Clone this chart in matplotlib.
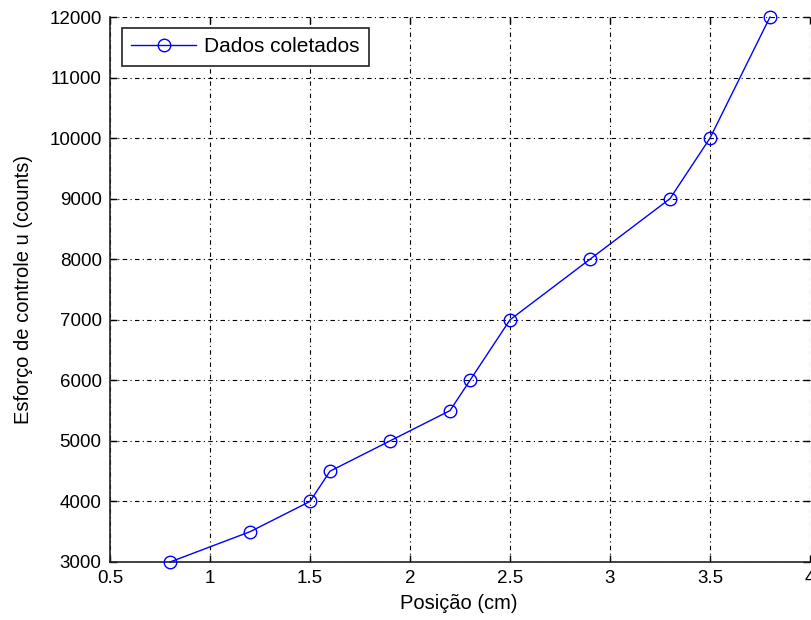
import matplotlib
matplotlib.use("Agg")
import matplotlib.pyplot as plt

posicao = [0.8, 1.2, 1.5, 1.6, 1.9, 2.2, 2.3, 2.5, 2.9, 3.3, 3.5, 3.8]
esforco = [3000, 3500, 4000, 4500, 5000, 5500, 6000, 7000, 8000, 9000, 10000, 12000]
xticks = [0.5, 1, 1.5, 2, 2.5, 3, 3.5, 4]
xticklabels = ["0.5", "1", "1.5", "2", "2.5", "3", "3.5", "4"]
yticks = list(range(3000, 12001, 1000))

plt.rcParams['font.family'] = ['Liberation Sans', 'DejaVu Sans']

fig = plt.figure(figsize=(8.12, 6.2), dpi=100)
ax = fig.add_axes([110/812, 58/620, 700/812, 545/620])

ax.plot(posicao, esforco, color='#0000ff', linewidth=1.0, marker='o', markersize=9,
        markerfacecolor='none', markeredgecolor='#0000ff', markeredgewidth=1.0,
        label='Dados coletados', clip_on=False, zorder=3)

ax.set_xlim(0.5, 4)
ax.set_ylim(3000, 12000)
ax.set_xticks(xticks)
ax.set_xticklabels(xticklabels)
ax.set_yticks(yticks)
ax.tick_params(direction='in', length=5, width=1.0, labelsize=13.5, top=True, right=True, pad=6)
ax.grid(True, color='black', linestyle=(0, (4, 3, 1, 3)), linewidth=0.8)
for s in ['top', 'right']:
    ax.spines[s].set_visible(False)
for s in ['left', 'bottom']:
    ax.spines[s].set_linewidth(1.2)
    ax.spines[s].set_color('#222222')

ax.set_xlabel('Posição (cm)', fontsize=14.5)
ax.set_ylabel('Esforço de controle u (counts)', fontsize=14.5)
ax.xaxis.set_label_coords((459 - 110) / 700, (562 - 594) / 545)
ax.yaxis.set_label_coords((33 - 110) / 700, 0.5)

leg = ax.legend(loc='upper left', bbox_to_anchor=(12/700, 1 - 11/545), fontsize=15,
                frameon=True, fancybox=False, edgecolor='#222222', framealpha=1,
                handlelength=3.1, handletextpad=0.4, borderpad=0.45, borderaxespad=0)
leg.get_frame().set_linewidth(1.2)

fig.savefig('out.png', dpi=100)
